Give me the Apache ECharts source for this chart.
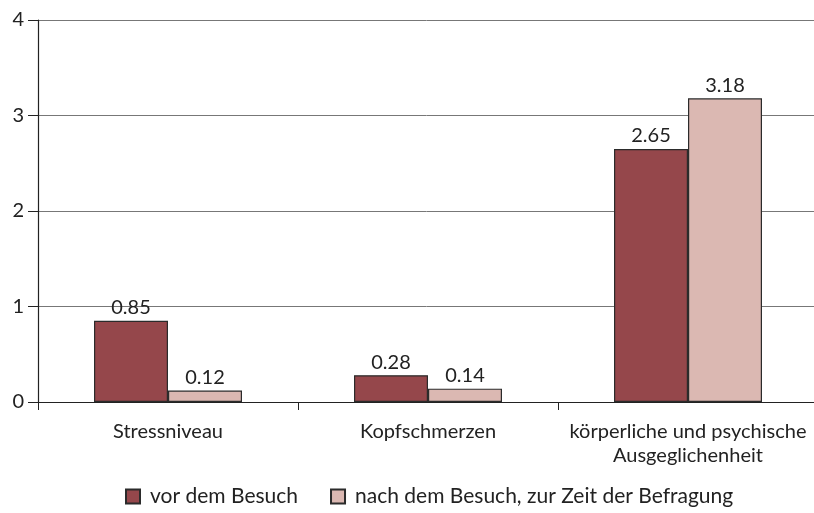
<!DOCTYPE html>
<html>
<head>
<meta charset="utf-8">
<script src="https://cdn.jsdelivr.net/npm/echarts@6/dist/echarts.min.js"></script>
<style>
  html, body { margin: 0; padding: 0; background: #fff; }
  #main { width: 814px; height: 513px; }
</style>
</head>
<body>
<div id="main"></div>
<script>
// data
var categories = ['Stressniveau', 'Kopfschmerzen', 'körperliche und psychische\nAusgeglichenheit'];
var seriesNames = ['vor dem Besuch', 'nach dem Besuch, zur Zeit der Befragung'];
var vorValues = [0.85, 0.28, 2.65];
var nachValues = [0.12, 0.14, 3.18];
var yTicks = [0, 1, 2, 3, 4];

var font = 'Lato, "Open Sans", sans-serif';

var chart = echarts.init(document.getElementById('main'));

var labelStyle = {
    show: true,
    position: 'top',
    distance: 3,
    color: '#222',
    fontSize: 20,
    fontFamily: font,
    formatter: function (p) { return p.value.toFixed(2); }
};

var option = {
    animation: false,
    textStyle: { fontFamily: font },
    grid: {
        left: 38,
        top: 20,
        width: 780,
        height: 382,
        outerBoundsMode: 'none'
    },
    legend: {
        bottom: 1,
        left: 120,
        itemWidth: 14,
        itemHeight: 14,
        itemGap: 32,
        textStyle: { fontSize: 21, color: '#222', fontFamily: font, padding: [0, 0, 0, 5] },
        data: seriesNames.map(function (n) {
            return { name: n, icon: 'rect' };
        })
    },
    xAxis: {
        type: 'category',
        data: categories,
        axisLine: { lineStyle: { color: '#222', width: 1.2 } },
        axisTick: { show: true, interval: 0, length: 8, lineStyle: { color: '#222' } },
        axisLabel: {
            interval: 0,
            color: '#222',
            fontSize: 20,
            lineHeight: 24,
            margin: 18,
            fontFamily: font
        }
    },
    yAxis: {
        type: 'value',
        min: yTicks[0],
        max: yTicks[yTicks.length - 1],
        interval: 1,
        axisLine: { show: true, lineStyle: { color: '#222', width: 1.2 } },
        axisTick: { show: true, length: 10, lineStyle: { color: '#222' } },
        axisLabel: { color: '#222', fontSize: 20, margin: 14, fontFamily: font },
        splitLine: { show: true, lineStyle: { color: '#777', width: 1 } }
    },
    series: [
        {
            name: seriesNames[0],
            type: 'bar',
            data: vorValues,
            barWidth: 74,
            barGap: '0%',
            itemStyle: { color: '#95474b', borderColor: '#2b2b2b', borderWidth: 1.2 },
            label: labelStyle
        },
        {
            name: seriesNames[1],
            type: 'bar',
            data: nachValues,
            barWidth: 74,
            itemStyle: { color: '#dbb8b2', borderColor: '#2b2b2b', borderWidth: 1.2 },
            label: labelStyle
        }
    ]
};

chart.setOption(option);
</script>
</body>
</html>
